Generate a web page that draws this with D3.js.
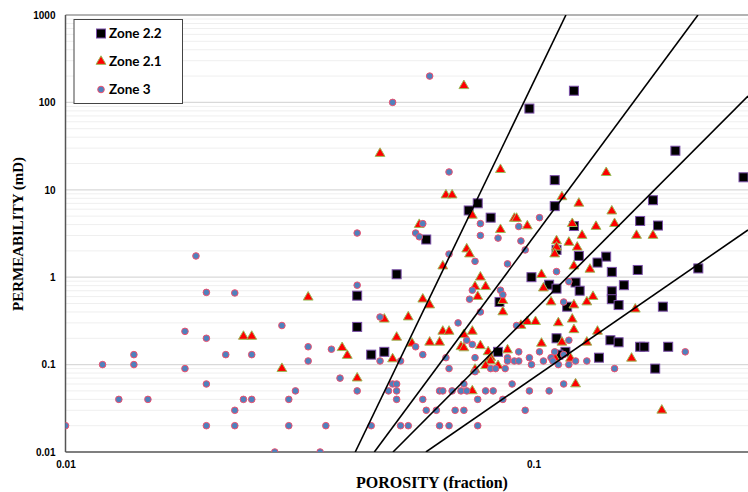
<!DOCTYPE html>
<html>
<head>
<meta charset="utf-8">
<script src="https://cdnjs.cloudflare.com/ajax/libs/d3/7.8.5/d3.min.js"></script>
<style>
    body { margin: 0; background: #fff; }
    svg { display: block; }
</style>
</head>
<body>
<div id="chart"></div>
<script>
// porosity (fraction), permeability (mD)
var zone22 = [
    [0.098, 85], [0.122, 136], [0.201, 28], [0.281, 13.9], [0.111, 12.9], [0.180, 7.6],
    [0.076, 7.0], [0.111, 6.5], [0.0727, 5.8], [0.081, 4.8], [0.169, 4.4], [0.1845, 3.9],
    [0.122, 3.85], [0.059, 2.7], [0.112, 2.05], [0.125, 1.75], [0.143, 1.72], [0.137, 1.47],
    [0.147, 1.15], [0.167, 1.21], [0.225, 1.26], [0.051, 1.08], [0.099, 1.0], [0.108, 0.82],
    [0.112, 0.74], [0.123, 0.87], [0.1255, 0.70], [0.147, 0.69], [0.156, 0.81], [0.147, 0.56],
    [0.152, 0.48], [0.118, 0.46], [0.189, 0.46], [0.0846, 0.52], [0.042, 0.615], [0.042, 0.27],
    [0.112, 0.2], [0.146, 0.19], [0.152, 0.18], [0.169, 0.16], [0.1725, 0.16], [0.194, 0.16],
    [0.045, 0.13], [0.048, 0.14], [0.084, 0.14], [0.117, 0.14], [0.113, 0.13], [0.138, 0.12],
    [0.182, 0.09]
];

var zone21 = [
    [0.071, 155], [0.047, 26], [0.085, 17], [0.143, 15.7], [0.065, 8.7], [0.067, 8.7],
    [0.115, 8.3], [0.125, 7.0], [0.074, 5.1], [0.147, 5.7], [0.091, 4.7], [0.092, 4.7],
    [0.121, 4.1], [0.149, 4.1], [0.057, 4.0], [0.097, 3.85], [0.136, 3.8], [0.085, 3.5],
    [0.127, 3.0], [0.166, 3.0], [0.180, 3.0], [0.119, 2.5], [0.112, 2.6], [0.112, 2.2],
    [0.111, 1.84], [0.124, 2.2], [0.072, 2.1], [0.073, 1.84], [0.064, 1.34], [0.122, 1.34],
    [0.132, 1.23], [0.104, 1.07], [0.077, 1.0], [0.075, 0.78], [0.079, 0.78], [0.105, 0.75],
    [0.076, 0.6], [0.134, 0.6], [0.086, 0.54], [0.130, 0.52], [0.109, 0.52], [0.122, 0.48],
    [0.058, 0.56], [0.060, 0.48], [0.033, 0.59], [0.086, 0.40], [0.165, 0.43], [0.048, 0.33],
    [0.054, 0.35], [0.094, 0.28], [0.097, 0.31], [0.101, 0.31], [0.113, 0.30], [0.121, 0.33],
    [0.122, 0.25], [0.137, 0.24], [0.064, 0.24], [0.066, 0.24], [0.071, 0.22], [0.074, 0.24],
    [0.051, 0.205], [0.024, 0.21], [0.025, 0.21], [0.060, 0.18], [0.063, 0.18], [0.055, 0.175],
    [0.115, 0.18], [0.130, 0.18], [0.104, 0.175], [0.070, 0.16], [0.071, 0.155], [0.039, 0.156],
    [0.077, 0.164], [0.040, 0.127], [0.088, 0.147], [0.080, 0.14], [0.050, 0.116], [0.081, 0.12],
    [0.081, 0.11], [0.079, 0.097], [0.084, 0.097], [0.111, 0.12], [0.120, 0.118], [0.162, 0.118],
    [0.029, 0.09], [0.075, 0.088], [0.042, 0.07], [0.074, 0.05], [0.123, 0.06], [0.188, 0.03]
];

var zone3 = [
    [0.060, 200], [0.050, 100], [0.066, 16], [0.042, 3.2], [0.058, 4.1], [0.056, 3.2],
    [0.057, 2.9], [0.077, 4.1], [0.077, 3.0], [0.103, 4.8], [0.093, 3.8], [0.084, 2.8],
    [0.094, 2.6], [0.096, 2.05], [0.066, 1.84], [0.075, 1.52], [0.088, 1.42], [0.112, 1.16],
    [0.119, 0.89], [0.074, 0.71], [0.085, 0.71], [0.086, 0.63], [0.073, 0.56], [0.116, 0.52],
    [0.042, 0.81], [0.019, 1.75], [0.020, 0.67], [0.023, 0.66], [0.029, 0.28], [0.018, 0.24],
    [0.020, 0.2], [0.033, 0.16], [0.037, 0.15], [0.014, 0.13], [0.012, 0.1], [0.014, 0.1],
    [0.018, 0.09], [0.022, 0.13], [0.025, 0.13], [0.033, 0.11], [0.0386, 0.07], [0.020, 0.06],
    [0.031, 0.05], [0.013, 0.04], [0.015, 0.04], [0.024, 0.04], [0.025, 0.04], [0.030, 0.04],
    [0.023, 0.03], [0.010, 0.02], [0.020, 0.02], [0.023, 0.02], [0.030, 0.02], [0.036, 0.02],
    [0.028, 0.01], [0.035, 0.01], [0.047, 0.35], [0.069, 0.30], [0.072, 0.19], [0.074, 0.17],
    [0.056, 0.16], [0.058, 0.13], [0.047, 0.11], [0.052, 0.11], [0.065, 0.12], [0.066, 0.09],
    [0.075, 0.12], [0.075, 0.083], [0.050, 0.06], [0.051, 0.06], [0.071, 0.06], [0.042, 0.05],
    [0.049, 0.05], [0.051, 0.05], [0.063, 0.05], [0.064, 0.05], [0.067, 0.05], [0.070, 0.05],
    [0.072, 0.05], [0.051, 0.04], [0.058, 0.04], [0.076, 0.04], [0.059, 0.03], [0.062, 0.03],
    [0.068, 0.03], [0.071, 0.03], [0.045, 0.02], [0.052, 0.02], [0.054, 0.02], [0.063, 0.02],
    [0.066, 0.02], [0.076, 0.02], [0.077, 0.40], [0.092, 0.28], [0.093, 0.14], [0.103, 0.14],
    [0.111, 0.14], [0.088, 0.12], [0.088, 0.11], [0.091, 0.11], [0.093, 0.11], [0.098, 0.12],
    [0.099, 0.1], [0.105, 0.11], [0.109, 0.12], [0.110, 0.11], [0.116, 0.13], [0.113, 0.1],
    [0.119, 0.1], [0.123, 0.11], [0.130, 0.11], [0.149, 0.09], [0.081, 0.09], [0.083, 0.09],
    [0.087, 0.09], [0.079, 0.05], [0.082, 0.05], [0.090, 0.06], [0.086, 0.04], [0.098, 0.05],
    [0.108, 0.05], [0.116, 0.06], [0.096, 0.03], [0.119, 0.19], [0.211, 0.14]
];

// straight lines on the log-log plot, two end points each
var trendLines = [
    [[0.0416, 0.01], [0.1173, 1000]],
    [[0.0457, 0.01], [0.2246, 1000]],
    [[0.0501, 0.01], [0.2873, 118]],
    [[0.0589, 0.01], [0.2873, 3.47]]
];

var yTicks = [0.01, 0.1, 1, 10, 100, 1000];
var yTickLabels = ["0.01", "0.1", "1", "10", "100", "1000"];
var xTicks = [0.01, 0.1];
var xTickLabels = ["0.01", "0.1"];
var legendNames = ["Zone 2.2", "Zone 2.1", "Zone 3"];

var width = 748, height = 492;
var margin = {top: 15, left: 65.5, bottom: 40};

var svg = d3.select("#chart").append("svg")
    .attr("width", width)
    .attr("height", height);

var xScale = d3.scaleLog()
    .domain([0.01, 0.3])
    .range([margin.left, margin.left + 468 * Math.log10(30)]);

var yScale = d3.scaleLog()
    .domain([0.01, 1000])
    .range([height - margin.bottom, margin.top]);

var x0 = margin.left, x1 = width;
var yTop = margin.top, yBot = height - margin.bottom;

svg.append("clipPath").attr("id", "plotclip")
    .append("rect")
    .attr("x", x0).attr("y", yTop)
    .attr("width", x1 - x0).attr("height", yBot - yTop);

// minor gridlines
var minor = [];
for (var e = -2; e < 3; e++) {
    for (var m = 2; m < 10; m++) minor.push(m * Math.pow(10, e));
}
svg.append("g").selectAll("line")
    .data(minor)
    .join("line")
    .attr("x1", x0).attr("x2", x1)
    .attr("y1", d => yScale(d)).attr("y2", d => yScale(d))
    .attr("stroke", "#efefef")
    .attr("stroke-width", 1);

svg.append("g").selectAll("line")
    .data(yTicks.slice(1, -1))
    .join("line")
    .attr("x1", x0).attr("x2", x1)
    .attr("y1", d => yScale(d)).attr("y2", d => yScale(d))
    .attr("stroke", "#d9d9d9")
    .attr("stroke-width", 1.2);

// frame
svg.append("line")
    .attr("x1", x0).attr("x2", x1)
    .attr("y1", yTop).attr("y2", yTop)
    .attr("stroke", "#9a9a9a").attr("stroke-width", 1.5);

var xAxis = d3.axisBottom(xScale)
    .tickValues(xTicks)
    .tickFormat((d, i) => xTickLabels[i])
    .tickSize(0)
    .tickPadding(9);

var yAxis = d3.axisLeft(yScale)
    .tickValues(yTicks)
    .tickFormat((d, i) => yTickLabels[i])
    .tickSize(0)
    .tickPadding(10);

var gx = svg.append("g")
    .attr("transform", "translate(0," + yBot + ")")
    .call(xAxis);
gx.select(".domain").remove();

var gy = svg.append("g")
    .attr("transform", "translate(" + x0 + ",0)")
    .call(yAxis);
gy.select(".domain").remove();

svg.selectAll(".tick text")
    .attr("fill", "#000")
    .style("font", "bold 10px 'Liberation Sans', Arial, sans-serif");

svg.append("line")
    .attr("x1", x0).attr("x2", x0)
    .attr("y1", yTop).attr("y2", yBot)
    .attr("stroke", "#555").attr("stroke-width", 1.5);
svg.append("line")
    .attr("x1", x0).attr("x2", x1)
    .attr("y1", yBot).attr("y2", yBot)
    .attr("stroke", "#555").attr("stroke-width", 1.5);

var plot = svg.append("g").attr("clip-path", "url(#plotclip)");

var tri = d3.symbol().type(d3.symbolTriangle).size(42);

function drawSquares(g, data) {
    g.selectAll("rect")
        .data(data)
        .join("rect")
        .attr("x", d => xScale(d[0]) - 4.5)
        .attr("y", d => yScale(d[1]) - 4.5)
        .attr("width", 9).attr("height", 9)
        .attr("fill", "#000")
        .attr("stroke", "#7a4ea8")
        .attr("stroke-width", 1);
}

function drawTriangles(g, data) {
    g.selectAll("path")
        .data(data)
        .join("path")
        .attr("transform", d => "translate(" + xScale(d[0]) + "," + yScale(d[1]) + ")")
        .attr("d", tri)
        .attr("fill", "#ff0000")
        .attr("stroke", "#9bbb59")
        .attr("stroke-width", 1);
}

function drawCircles(g, data) {
    g.selectAll("circle")
        .data(data)
        .join("circle")
        .attr("cx", d => xScale(d[0]))
        .attr("cy", d => yScale(d[1]))
        .attr("r", 3.3)
        .attr("fill", "#4f81bd")
        .attr("stroke", "#f0506e")
        .attr("stroke-width", 1);
}

drawSquares(plot.append("g"), zone22);
drawTriangles(plot.append("g"), zone21);
drawCircles(plot.append("g"), zone3);

var line = d3.line()
    .x(d => xScale(d[0]))
    .y(d => yScale(d[1]));

plot.append("g").selectAll("path")
    .data(trendLines)
    .join("path")
    .attr("d", line)
    .attr("fill", "none")
    .attr("stroke", "#000")
    .attr("stroke-width", 1.6);

// legend
var legend = svg.append("g");
legend.append("rect")
    .attr("x", 74).attr("y", 19.5)
    .attr("width", 108.5).attr("height", 84)
    .attr("fill", "#fff")
    .attr("stroke", "#444")
    .attr("stroke-width", 1);

var lg = legend.selectAll("g.item")
    .data(legendNames)
    .join("g")
    .attr("class", "item")
    .attr("transform", (d, i) => "translate(101," + (33.5 + i * 28) + ")");

lg.filter((d, i) => i === 0).call(g => drawSquares(g, [[xScale.invert(0), yScale.invert(0)]]));
lg.filter((d, i) => i === 1).call(g => drawTriangles(g, [[xScale.invert(0), yScale.invert(0)]]));
lg.filter((d, i) => i === 2).call(g => drawCircles(g, [[xScale.invert(0), yScale.invert(0)]]));

lg.append("text")
    .attr("x", 8)
    .attr("y", 0)
    .attr("dy", "0.36em")
    .style("font", "bold 13.5px Lato, 'Open Sans', sans-serif")
    .attr("fill", "#000")
    .text(d => d);

// axis titles
svg.append("text")
    .attr("x", 432)
    .attr("y", 488)
    .attr("text-anchor", "middle")
    .style("font", "bold 16px 'Liberation Serif', 'Times New Roman', serif")
    .text("POROSITY (fraction)");

svg.append("text")
    .attr("transform", "translate(23,234) rotate(-90)")
    .attr("text-anchor", "middle")
    .style("font", "bold 15px 'Liberation Serif', 'Times New Roman', serif")
    .text("PERMEABILITY (mD)");
</script>
</body>
</html>
